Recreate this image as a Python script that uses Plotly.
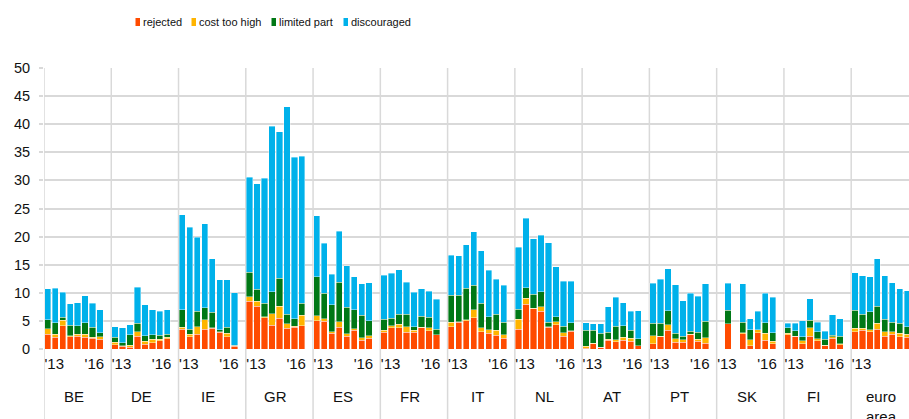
import plotly.graph_objects as go

countries = ["BE", "DE", "IE", "GR", "ES", "FR", "IT", "NL", "AT", "PT", "SK", "FI", "euro<br>area"]
periods = ["H1 2013", "H2 2013", "H1 2014", "H2 2014", "H1 2015", "H2 2015", "H1 2016", "H2 2016"]
year_labels = ["'13", "'16"]
series_names = ["rejected", "cost too high", "limited part", "discouraged"]
series_colors = ["#FF4B00", "#FFB400", "#007816", "#00B1EA"]

rejected = [
    [2.6, 2.1, 4.1, 2.2, 2.3, 2.1, 1.9, 1.7],
    [0.8, 0.45, 0.35, 2.3, 0.85, 1.1, 1.45, 1.8],
    [3.5, 2.15, 2.6, 3.5, 3.7, 3.0, 2.2, 0.5],
    [8.5, 7.65, 5.6, 4.2, 5.5, 3.7, 3.85, 4.15],
    [5.05, 4.9, 2.8, 3.85, 2.25, 3.3, 1.6, 1.9],
    [3.0, 3.75, 3.8, 3.0, 3.0, 3.75, 3.25, 2.55],
    [4.0, 4.75, 5.0, 5.6, 3.1, 2.8, 2.45, 1.9],
    [3.5, 7.95, 7.2, 6.7, 3.9, 4.3, 2.25, 3.2],
    [0.1, 0.95, 0.3, 1.6, 1.25, 1.55, 1.35, 0.55],
    [0.9, 2.2, 3.3, 1.2, 1.2, 2.5, 1.35, 1.05],
    [None, 4.45, None, 2.75, 0.55, 2.85, 1.6, 0.9],
    [2.5, 2.25, 0.95, 2.3, 1.5, 0.6, 1.9, 0.8],
    [3.05, 3.3, 3.05, 3.5, 2.3, 2.6, 2.2, 2.1],
]
cost_too_high = [
    [1.0, 0.5, 1.0, 0.15, 0.3, 0.5, 0.15, 0.5],
    [0.4, 0.15, 0.3, 0.8, 0.5, 0.6, 0.3, 0.3],
    [0.4, 0.45, 1.4, 1.7, 0.1, 0.1, 0.6, 0.05],
    [0.8, 0.85, 0.15, 2.1, 2.1, 0.8, 0.2, 1.9],
    [0.85, 0.5, 0.3, 1.0, 0.45, 0.3, 0.4, 0.5],
    [0.3, 0.35, 0.6, 1.0, 0.3, 0.1, 0.55, 0.0],
    [0.8, 0.1, 0.25, 1.35, 0.7, 0.65, 0.85, 0.65],
    [1.8, 1.05, 0.05, 0.8, 0.1, 0.55, 0.6, 0.05],
    [0.4, 0.05, 0.05, 0.1, 0.4, 0.55, 0.55, 0.05],
    [1.5, 0.05, 1.05, 0.65, 0.45, 0.15, 0.35, 0.95],
    [None, 0.0, None, 0.1, 1.1, 0.6, 1.2, 0.5],
    [0.3, 0.05, 0.55, 1.5, 0.3, 0.05, 0.25, 0.1],
    [0.65, 0.4, 0.35, 1.05, 0.8, 0.5, 0.6, 0.5],
]
limited_part = [
    [1.6, 2.1, 0.55, 1.9, 1.5, 2.1, 1.8, 0.7],
    [0.9, 0.55, 1.9, 1.5, 1.05, 0.8, 0.7, 0.5],
    [3.1, 0.9, 2.7, 2.1, 2.7, 0.3, 1.1, 0.1],
    [4.4, 2.1, 2.35, 3.9, 5.0, 1.7, 1.3, 2.05],
    [7.0, 4.5, 4.8, 7.0, 4.7, 3.4, 4.05, 2.65],
    [2.0, 1.4, 1.8, 2.2, 0.7, 1.95, 1.85, 0.95],
    [4.75, 4.75, 5.6, 4.4, 4.3, 2.25, 2.9, 2.25],
    [1.75, 1.9, 2.5, 2.65, 0.75, 0.9, 1.2, 1.45],
    [2.8, 2.3, 2.45, 1.3, 2.4, 2.05, 1.4, 1.25],
    [2.15, 2.35, 2.45, 0.95, 0.6, 0.5, 1.25, 2.9],
    [None, 2.45, None, 1.95, 1.75, 0.0, 1.9, 1.45],
    [0.95, 0.95, 0.7, 1.35, 1.25, 1.05, 0.3, 1.4],
    [3.2, 2.5, 3.2, 3.05, 2.2, 1.7, 1.8, 1.4],
]
discouraged = [
    [5.5, 6.1, 4.45, 3.8, 4.1, 4.8, 4.3, 4.1],
    [1.9, 2.6, 1.8, 6.35, 5.45, 4.5, 4.25, 4.4],
    [16.9, 18.2, 13.2, 15.0, 9.6, 8.9, 8.4, 9.35],
    [16.9, 18.8, 22.3, 29.4, 26.1, 36.9, 28.8, 26.2],
    [10.8, 8.9, 5.4, 9.1, 7.45, 5.9, 5.55, 6.7],
    [7.8, 8.0, 7.9, 5.7, 6.1, 4.95, 4.65, 5.35],
    [7.15, 7.0, 7.7, 9.5, 9.4, 8.3, 6.2, 6.55],
    [11.05, 12.4, 9.85, 10.05, 14.15, 8.85, 8.05, 7.4],
    [1.35, 1.15, 1.7, 4.5, 5.2, 4.1, 3.4, 5.0],
    [7.15, 7.85, 7.5, 8.65, 6.35, 6.75, 6.45, 6.75],
    [None, 4.8, None, 6.8, 1.95, 3.3, 5.25, 6.35],
    [0.85, 1.3, 2.8, 3.8, 1.75, 1.45, 3.65, 3.1],
    [6.7, 6.85, 6.3, 8.5, 7.7, 7.0, 6.1, 6.4],
]

# ---- layout helpers ----
W, H = 909, 419
ML, MR, MT, MB = 44, 0, 68, 70
PW, PH = W - ML - MR, H - MT - MB
SLOTS = 9          # 8 bars + 1 gap per country
SLOT_PX = 7.474
x_max = -0.5 + PW / SLOT_PX

def px2paper_x(px):
    return (px - ML) / PW

def px2paper_y(py):
    return (H - MB - py) / PH

xs, hov = [], []
for g, c in enumerate(countries):
    for i, p in enumerate(periods):
        xs.append(g * SLOTS + i)
        hov.append(c.replace("<br>", " ") + " " + p)

fig = go.Figure()
for name, color, data in zip(series_names, series_colors,
                             [rejected, cost_too_high, limited_part, discouraged]):
    vals = [v for row in data for v in row]
    fig.add_trace(go.Bar(
        x=xs, y=vals, name=name, width=0.84,
        marker=dict(color=color, line=dict(color="rgba(255,255,255,0.55)", width=0.7)),
        hovertext=hov, hovertemplate="%{hovertext}<br>" + name + ": %{y}<extra></extra>",
        showlegend=False,
    ))

# year tick labels on the x axis
tickvals, ticktext = [], []
for g in range(len(countries)):
    tickvals += [g * SLOTS + 0.875, g * SLOTS + 6.24]
    ticktext += year_labels

shapes = []
for g in range(len(countries)):
    shapes.append(dict(type="line", xref="x", yref="paper",
                       x0=g * SLOTS - 0.5, x1=g * SLOTS - 0.5,
                       y0=-(MB / PH), y1=1,
                       line=dict(color="#d9d9d9", width=1.5), layer="below"))

annotations = []
for g, c in enumerate(countries):
    annotations.append(dict(x=g * SLOTS + 3.5, y=px2paper_y(386), xref="x", yref="paper",
                            text=c, showarrow=False, xanchor="center", yanchor="top",
                            font=dict(size=15, color="#111")))

# custom legend (small square + text)
legend_squares_px = [135.5, 191.5, 271.5, 343.5]
for sq_x, name, color in zip(legend_squares_px, series_names, series_colors):
    shapes.append(dict(type="rect", xref="paper", yref="paper",
                       x0=px2paper_x(sq_x), x1=px2paper_x(sq_x + 4.5),
                       y0=px2paper_y(26), y1=px2paper_y(18),
                       fillcolor=color, line=dict(width=0)))
    annotations.append(dict(x=px2paper_x(sq_x + 5.5), y=px2paper_y(22), xref="paper", yref="paper",
                            text=name, showarrow=False, xanchor="left", yanchor="middle",
                            font=dict(size=11, color="#111")))

fig.update_layout(
    width=W, height=H,
    margin=dict(l=ML, r=MR, t=MT, b=MB, pad=0),
    barmode="stack",
    plot_bgcolor="white", paper_bgcolor="white",
    font=dict(family="Liberation Sans, Arial, sans-serif", color="#111"),
    xaxis=dict(range=[-0.5, x_max], tickmode="array", tickvals=tickvals, ticktext=ticktext,
               showgrid=False, zeroline=False, showline=False, ticks="", automargin=False,
               tickfont=dict(size=15), ticklabelstandoff=4),
    yaxis=dict(range=[0, 50], tickmode="array", tickvals=list(range(0, 51, 5)),
               showgrid=True, gridcolor="#d9d9d9", gridwidth=1.5, zeroline=False, automargin=False,
               showline=False, ticks="outside", ticklen=4, tickcolor="#d9d9d9", tickwidth=1.5,
               tickfont=dict(size=14.5), ticklabelstandoff=6),
    shapes=shapes, annotations=annotations,
)

fig.write_html("out.html", config={"displayModeBar": False},
               post_script="document.body.style.margin='0px';document.body.style.overflow='hidden';")
